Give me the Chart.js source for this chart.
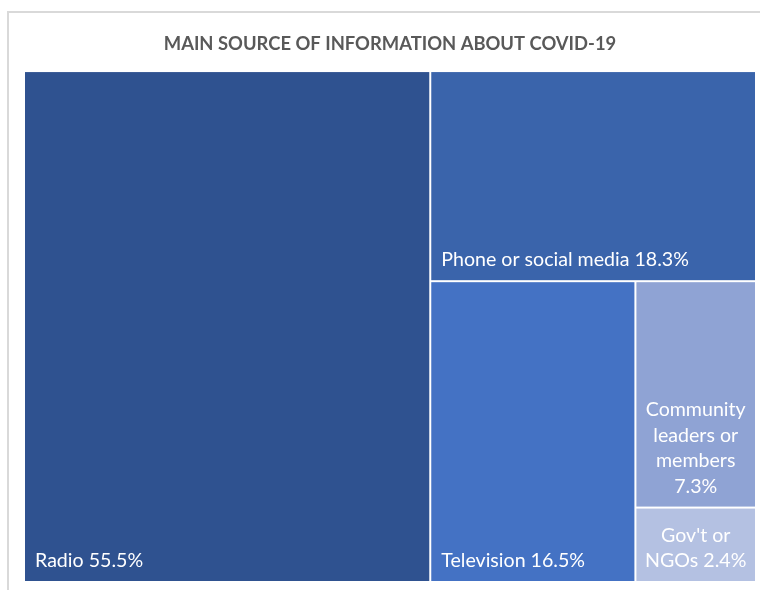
<!DOCTYPE html>
<html>
<head>
<meta charset="utf-8">
<title>Main source of information about COVID-19</title>
<script src="https://cdn.jsdelivr.net/npm/chart.js@4"></script>
<style>
  html, body { margin: 0; padding: 0; background: #ffffff; }
  #wrap { width: 760px; height: 590px; }
</style>
</head>
<body>
<div id="wrap"><canvas id="chart" width="760" height="590"></canvas></div>
<script>
// Information sources and their share of respondents (%)
const categories = ['Radio', 'Phone or social media', 'Television', 'Community leaders or members', "Gov't or NGOs"];
const shares = [55.5, 18.3, 16.5, 7.3, 2.4];
const cellColors = ['#2F5290', '#3A64AB', '#4472C4', '#8FA3D4', '#B4C1E2'];
const titleText = 'MAIN SOURCE OF INFORMATION ABOUT COVID-19';

const LABEL_FONT = '19.6px Lato';

// Slice one cell at a time off the longer side of the remaining space.
function layoutCells(values, xs, ys) {
  let x0 = 0, x1 = 100, y0 = 0, y1 = 100;
  let rest = values.reduce((a, b) => a + b, 0);
  const out = [];
  values.forEach((v, i) => {
    const f = i === values.length - 1 ? 1 : v / rest;
    const wPx = Math.abs(xs.getPixelForValue(x1) - xs.getPixelForValue(x0));
    const hPx = Math.abs(ys.getPixelForValue(y1) - ys.getPixelForValue(y0));
    if (wPx >= hPx) {
      const xm = x0 + (x1 - x0) * f;
      out.push({ x0: x0, x1: xm, y0: y0, y1: y1 });
      x0 = xm;
    } else {
      const ym = y0 + (y1 - y0) * f;
      out.push({ x0: x0, x1: x1, y0: y0, y1: ym });
      y0 = ym;
    }
    rest -= v;
  });
  return out;
}

function wrapWords(ctx, text, maxW) {
  const words = text.split(' ');
  const lines = [];
  let cur = '';
  words.forEach(w => {
    const t = cur ? cur + ' ' + w : w;
    if (cur && ctx.measureText(t).width > maxW) {
      lines.push(cur);
      cur = w;
    } else {
      cur = t;
    }
  });
  if (cur) lines.push(cur);
  return lines;
}

const frame = {
  id: 'frame',
  beforeDraw(chart) {
    const ctx = chart.ctx;
    ctx.save();
    ctx.strokeStyle = '#D9D9D9';
    ctx.lineWidth = 2;
    ctx.beginPath();
    ctx.moveTo(8, 590);
    ctx.lineTo(8, 12);
    ctx.lineTo(760, 12);
    ctx.stroke();
    ctx.restore();
  }
};

const treemapCells = {
  id: 'treemapCells',
  afterDatasetsDraw(chart) {
    const ctx = chart.ctx;
    const xs = chart.scales.x, ys = chart.scales.y;
    const rects = layoutCells(shares, xs, ys);
    ctx.save();
    rects.forEach((r, i) => {
      const left = xs.getPixelForValue(r.x0), right = xs.getPixelForValue(r.x1);
      const top = ys.getPixelForValue(r.y0), bottom = ys.getPixelForValue(r.y1);
      const gap = 1;
      ctx.fillStyle = cellColors[i];
      ctx.fillRect(left + gap, top + gap, right - left - 2 * gap, bottom - top - 2 * gap);

      const label = categories[i] + ' ' + shares[i].toFixed(1) + '%';
      ctx.font = LABEL_FONT;
      ctx.fillStyle = '#FFFFFF';
      ctx.textBaseline = 'alphabetic';
      const pad = 11;
      const baseY = bottom - 15;
      if (ctx.measureText(label).width <= right - left - 2 * pad) {
        ctx.textAlign = 'left';
        ctx.fillText(label, left + pad, baseY);
      } else {
        // narrow cells: wrap the label and centre each line
        const lines = wrapWords(ctx, label, right - left - 12);
        const cx = (left + right) / 2;
        const lh = 25.5;
        ctx.textAlign = 'center';
        lines.forEach((ln, k) => {
          ctx.fillText(ln, cx, baseY - (lines.length - 1 - k) * lh);
        });
      }
    });
    ctx.restore();
  }
};

new Chart(document.getElementById('chart'), {
  type: 'scatter',
  data: { datasets: [{ label: 'cells', data: [] }] },
  options: {
    responsive: false,
    animation: false,
    devicePixelRatio: 1,
    layout: { padding: { left: 24, right: 4, top: 0, bottom: 8 } },
    scales: {
      x: { type: 'linear', min: 0, max: 100, display: false },
      y: { type: 'linear', min: 0, max: 100, reverse: true, display: false }
    },
    plugins: {
      legend: { display: false },
      tooltip: { enabled: false },
      title: {
        display: true,
        text: titleText,
        color: '#595959',
        font: { family: 'Lato', size: 18.4, weight: 'bold', lineHeight: 1.2 },
        padding: { top: 33.5, bottom: 15.5 }
      }
    }
  },
  plugins: [frame, treemapCells]
});
</script>
</body>
</html>
